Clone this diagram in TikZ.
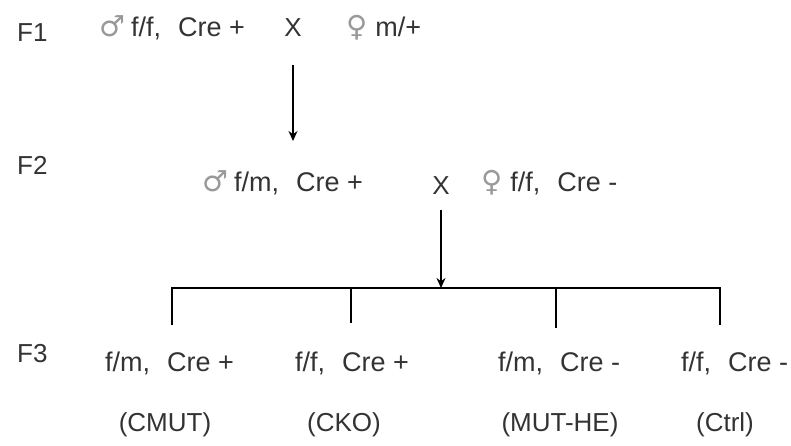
\documentclass[tikz,border=0pt]{standalone}
\usepackage{fontspec}
\setmainfont{Liberation Sans}
\newfontfamily\symfont{DejaVu Sans}
\usetikzlibrary{arrows.meta}
\definecolor{txt}{HTML}{333333}
\definecolor{sym}{HTML}{999999}
\newcommand{\malesym}{{\symfont\color{sym}\fontsize{29}{29}\selectfont ♂}\hspace{6pt}}
\newcommand{\femsym}{{\symfont\color{sym}\fontsize{29}{29}\selectfont ♀}\hspace{8pt}}
\newcommand{\gsep}{,\hspace{17pt}}
\begin{document}
\begin{tikzpicture}[x=1pt,y=1pt,
  lbl/.style={inner sep=0pt,text=txt,font=\fontsize{26}{30}\selectfont,anchor=base},
  gen/.style={lbl,anchor=base west},
  geno/.style={gen,font=\fontsize{27}{30}\selectfont},
  conn/.style={line width=1.4pt,draw=black},
  arr/.style={conn,-{Stealth[length=10pt,width=9pt]}}]
\useasboundingbox (0,0) rectangle (791,445);
% generation labels
\node[gen] (F1) at (17,403) {F1};
\node[gen] (F2) at (17,271) {F2};
\node[gen] (F3) at (17,83) {F3};
% F1 cross
\node[geno] (m1) at (99,408) {\malesym f/f\gsep Cre +};
\node[lbl] (x1) at (293,408) {X};
\node[geno] (f1) at (346,408) {\femsym m/+};
\coordinate (a1s) at (293,380);
\coordinate (a1e) at (293,304);
\draw[arr] (a1s) -- (a1e);
% F2 cross
\node[geno] (m2) at (202,254) {\malesym f/m\gsep Cre +};
\node[lbl] (x2) at (441,251) {X};
\node[geno] (f2) at (481,254) {\femsym f/f\gsep Cre -};
\coordinate (a2s) at (441,235);
\coordinate (a2e) at (441,157);
\draw[arr] (a2s) -- (a2e);
% bracket
\coordinate (b1) at (172,157);
\coordinate (b2) at (351,157);
\coordinate (b3) at (556,157);
\coordinate (b4) at (720,157);
\coordinate (t1) at (172,120);
\coordinate (t2) at (351,122);
\coordinate (t3) at (556,117);
\coordinate (t4) at (720,120);
\draw[conn] (t1) -- (b1) -- (b4) -- (t4);
\draw[conn] (b2) -- (t2);
\draw[conn] (b3) -- (t3);
% F3 genotypes
\node[geno] (g1) at (105,74) {f/m\gsep Cre +};
\node[geno] (g2) at (295,74) {f/f\gsep Cre +};
\node[geno] (g3) at (498,74) {f/m\gsep Cre -};
\node[geno] (g4) at (681,74) {f/f\gsep Cre -};
% F3 names
\node[lbl] (n1) at (165,14) {(CMUT)};
\node[lbl] (n2) at (344,14) {(CKO)};
\node[lbl] (n3) at (560,14) {(MUT-HE)};
\node[lbl] (n4) at (725,14) {(Ctrl)};
\end{tikzpicture}
\end{document}
